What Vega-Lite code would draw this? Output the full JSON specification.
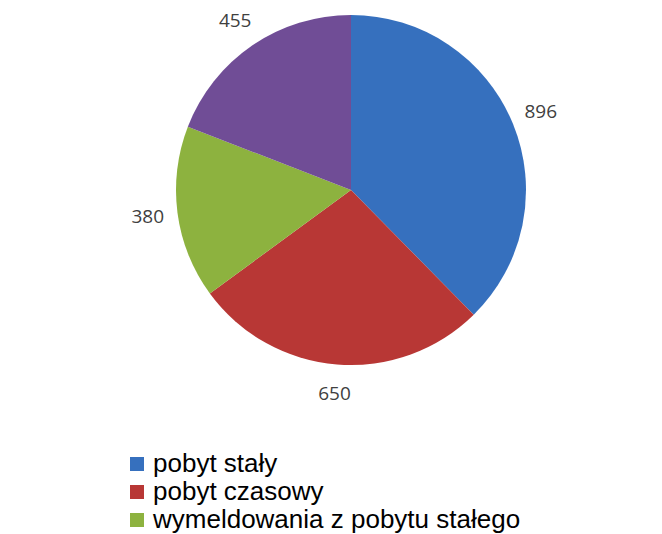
{
  "$schema": "https://vega.github.io/schema/vega-lite/v6.json",
  "autosize": {"type": "none"},
  "width": 702,
  "height": 380,
  "padding": {"left": 0, "top": 0, "right": 0, "bottom": 154},
  "background": "white",
  "data": {
    "values": [
      {"nr": 1, "kategoria": "pobyt stały", "liczba": 896},
      {"nr": 2, "kategoria": "pobyt czasowy", "liczba": 650},
      {"nr": 3, "kategoria": "wymeldowania z pobytu stałego", "liczba": 380},
      {"nr": 4, "kategoria": "wymeldowania z pobytu czasowego", "liczba": 455}
    ]
  },
  "encoding": {
    "theta": {"field": "liczba", "type": "quantitative", "stack": true},
    "order": {"field": "nr", "type": "quantitative"}
  },
  "layer": [
    {
      "mark": {"type": "arc", "outerRadius": 175},
      "encoding": {
        "color": {
          "field": "kategoria",
          "type": "nominal",
          "scale": {
            "domain": ["pobyt stały", "pobyt czasowy", "wymeldowania z pobytu stałego", "wymeldowania z pobytu czasowego"],
            "range": ["#3670BE", "#B83735", "#8DB23F", "#704D96"]
          },
          "legend": {
            "title": null,
            "orient": "none",
            "legendX": 124,
            "legendY": 451,
            "values": ["pobyt stały", "pobyt czasowy", "wymeldowania z pobytu stałego"],
            "symbolType": "square",
            "symbolSize": 196,
            "symbolStrokeWidth": 0,
            "labelFont": "Liberation Sans",
            "labelFontSize": 26,
            "labelColor": "#000000",
            "labelLimit": 500,
            "rowPadding": 2,
            "labelOffset": 3
          }
        }
      }
    },
    {
      "mark": {"type": "text", "radius": 205, "font": "Open Sans", "fontSize": 19, "color": "#404040"},
      "encoding": {
        "text": {"field": "liczba", "type": "quantitative"}
      }
    }
  ]
}
